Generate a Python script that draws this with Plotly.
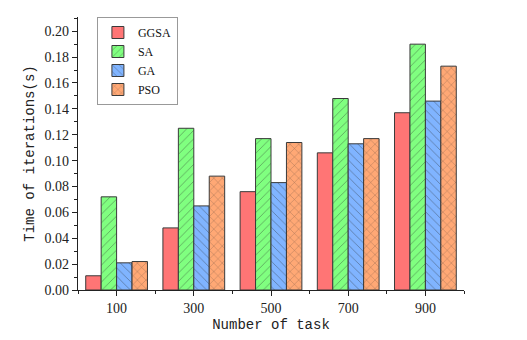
import plotly.graph_objects as go

tasks = ["100", "300", "500", "700", "900"]
ggsa = [0.011, 0.048, 0.076, 0.106, 0.137]
sa = [0.072, 0.125, 0.117, 0.148, 0.190]
ga = [0.021, 0.065, 0.083, 0.113, 0.146]
pso = [0.022, 0.088, 0.114, 0.117, 0.173]

y_ticks = [0.00, 0.02, 0.04, 0.06, 0.08, 0.10, 0.12, 0.14, 0.16, 0.18, 0.20]

series = [
    ("GGSA", ggsa, "#FF7575", ""),
    ("SA", sa, "#80FF80", "/"),
    ("GA", ga, "#80B4FF", "\\"),
    ("PSO", pso, "#FFA875", "x"),
]

xpos = list(range(len(tasks)))

fig = go.Figure()
for name, vals, color, shape in series:
    fig.add_trace(go.Bar(
        x=xpos, y=vals, name=name,
        marker=dict(
            color=color,
            line=dict(color="#3a3a3a", width=1),
            pattern=dict(shape=shape, fgcolor="#2a2a2a", size=6, solidity=0.12),
        ),
    ))

axis_font = dict(family="Liberation Serif", size=14, color="#222")
title_font = dict(family="Liberation Mono", size=14, color="#222")

# page body has an 8px margin, so the figure is sized and offset for it
fig.update_layout(
    width=519, height=332,
    template="simple_white",
    barmode="group", bargap=0.2, bargroupgap=0,
    margin=dict(l=70, r=63, t=9, b=50),
    plot_bgcolor="white", paper_bgcolor="white",
    legend=dict(
        x=0.049, y=1.0, xanchor="left", yanchor="top",
        bordercolor="#999999", borderwidth=1,
        font=dict(family="Liberation Serif", size=12, color="#111"),
        tracegroupgap=0, itemwidth=30,
    ),
)

fig.update_xaxes(
    range=[-0.5, 4.5], automargin=False,
    tickmode="array", tickvals=xpos, ticktext=tasks,
    ticks="outside", ticklen=5, tickwidth=1, tickcolor="#222",
    minor=dict(tickmode="linear", tick0=0.5, dtick=1, ticks="outside", ticklen=3, tickcolor="#222"),
    showline=True, linecolor="#222", linewidth=1.2, mirror=False,
    tickfont=axis_font,
    title=dict(text="Number of task", font=title_font, standoff=4),
)

fig.update_yaxes(
    range=[0, 0.211], automargin=False,
    tickmode="array", tickvals=y_ticks, ticktext=["%.2f" % v for v in y_ticks],
    ticks="outside", ticklen=5, tickwidth=1, tickcolor="#222",
    minor=dict(tickmode="linear", tick0=0.01, dtick=0.02, ticks="outside", ticklen=3, tickcolor="#222"),
    showline=True, linecolor="#222", linewidth=1.2, mirror=False,
    tickfont=axis_font,
    showgrid=False, zeroline=False,
    title=dict(text="Time of iterations(s)", font=title_font, standoff=6),
)

fig.write_html("out.html")
